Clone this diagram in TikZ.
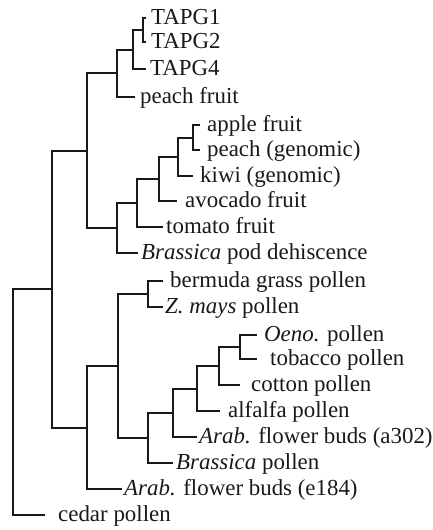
\documentclass[tikz,border=0pt]{standalone}
\usepackage{fontspec}
\setmainfont{Liberation Serif}
\begin{document}
\begin{tikzpicture}[x=1pt,y=-1pt,
  br/.style={draw=black!90, line width=2pt, line join=miter},
  leaf/.style={anchor=west, inner ysep=0pt, text height=13pt, text depth=0pt,
    font=\fontsize{22.9}{27}\selectfont, text=black!90}]
\useasboundingbox (0,0) rectangle (433,530);
% leaves: position = end of leaf line, inner xsep = gap to text
\node[leaf, inner xsep=5pt] (t1) at (146,18) {TAPG1};
\node[leaf, inner xsep=5pt] (t2) at (146,42) {TAPG2};
\node[leaf, inner xsep=4pt] (t4) at (146,69) {TAPG4};
\node[leaf, inner xsep=5pt] (pf) at (135,97) {peach fruit};
\node[leaf, inner xsep=7pt] (af) at (200,125) {apple fruit};
\node[leaf, inner xsep=7pt] (pg) at (200,150) {peach (genomic)};
\node[leaf, inner xsep=7pt] (kg) at (193,176) {kiwi (genomic)};
\node[leaf, inner xsep=8pt] (av) at (177,201) {avocado fruit};
\node[leaf, inner xsep=3pt] (tf) at (163,227) {tomato fruit};
\node[leaf, inner xsep=3pt] (bp) at (138,253) {\textit{Brassica} pod dehiscence};
\node[leaf, inner xsep=7pt] (bg) at (163,281) {bermuda grass pollen};
\node[leaf, inner xsep=2pt] (zm) at (163,307) {\textit{Z. mays} pollen};
\node[leaf, inner xsep=7pt] (oe) at (257,335) {\textit{Oeno.} pollen};
\node[leaf, inner xsep=13pt] (tb) at (257,359) {tobacco pollen};
\node[leaf, inner xsep=11pt] (ct) at (240,385) {cotton pollen};
\node[leaf, inner xsep=8pt] (al) at (220,411) {alfalfa pollen};
\node[leaf, inner xsep=2pt] (aa) at (197,437) {\textit{Arab.} flower buds (a302)};
\node[leaf, inner xsep=3pt] (bl) at (173,463) {\textit{Brassica} pollen};
\node[leaf, inner xsep=2pt] (ae) at (122,489) {\textit{Arab.} flower buds (e184)};
\node[leaf, inner xsep=13pt] (cp) at (45,515) {cedar pollen};
% internal nodes
\coordinate (a) at (143,30);
\coordinate (b) at (133,49.5);
\coordinate (c) at (117,73);
\coordinate (d) at (193,137.5);
\coordinate (e) at (178,157);
\coordinate (f) at (159,179);
\coordinate (g) at (137,203);
\coordinate (h) at (117,228);
\coordinate (i) at (87,150.5);
\coordinate (j) at (148,294);
\coordinate (k) at (240,347);
\coordinate (l) at (219,366);
\coordinate (m) at (197,388.5);
\coordinate (n) at (173,413);
\coordinate (o) at (148,438);
\coordinate (p) at (118,366);
\coordinate (q) at (87,427.5);
\coordinate (r) at (52,289);
\coordinate (s) at (13,402);
% branches
\draw[br] (t1.west) -| (a) |- (t2.west);
\draw[br] (a) -| (b) |- (t4.west);
\draw[br] (b) -| (c) |- (pf.west);
\draw[br] (af.west) -| (d) |- (pg.west);
\draw[br] (d) -| (e) |- (kg.west);
\draw[br] (e) -| (f) |- (av.west);
\draw[br] (f) -| (g) |- (tf.west);
\draw[br] (g) -| (h) |- (bp.west);
\draw[br] (c) -| (i) |- (h);
\draw[br] (bg.west) -| (j) |- (zm.west);
\draw[br] (oe.west) -| (k) |- (tb.west);
\draw[br] (k) -| (l) |- (ct.west);
\draw[br] (l) -| (m) |- (al.west);
\draw[br] (m) -| (n) |- (aa.west);
\draw[br] (n) -| (o) |- (bl.west);
\draw[br] (j) -| (p) |- (o);
\draw[br] (p) -| (q) |- (ae.west);
\draw[br] (i) -| (r) |- (q);
\draw[br] (r) -| (s) |- (cp.west);
\end{tikzpicture}
\end{document}
